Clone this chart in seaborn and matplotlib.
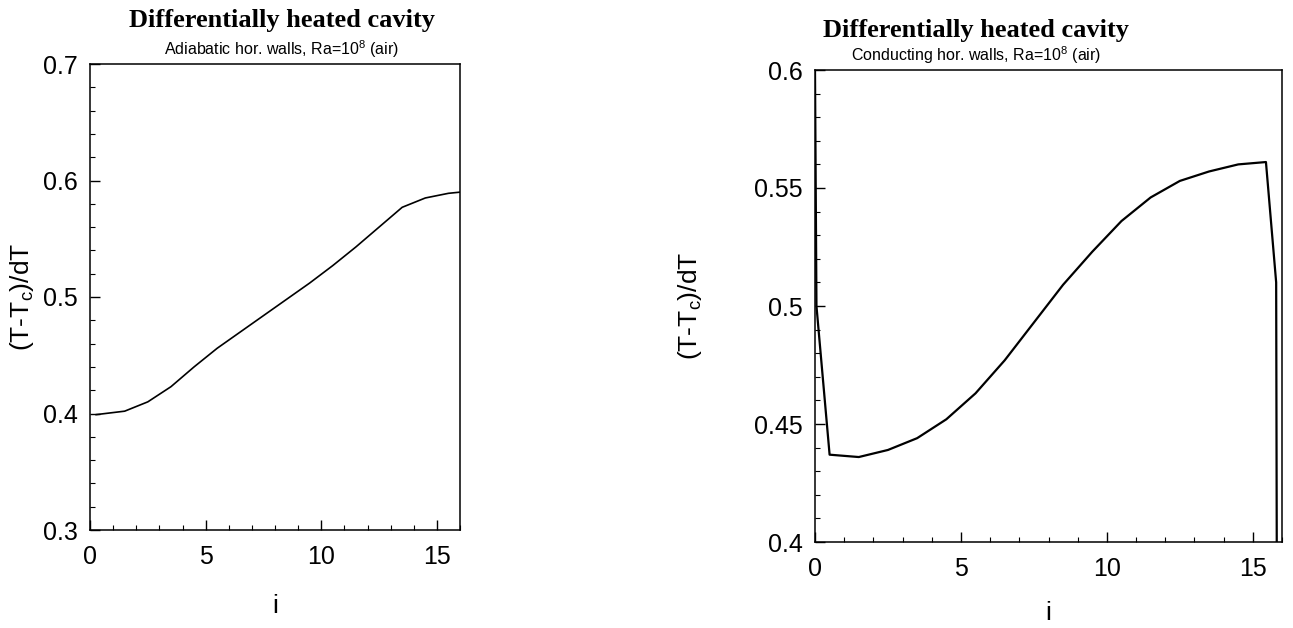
import matplotlib
matplotlib.use("Agg")
import matplotlib.pyplot as plt
from matplotlib.ticker import MultipleLocator
import seaborn as sns
import pandas as pd

# Adiabatic horizontal walls
i_adiabatic = [0.25, 1.5, 2.5, 3.5, 4.5, 5.5, 6.5, 7.5, 8.5, 9.5, 10.5, 11.5, 12.5, 13.5, 14.5, 15.5, 16.0]
t_adiabatic = [0.399, 0.402, 0.410, 0.423, 0.440, 0.456, 0.470, 0.484, 0.498, 0.512, 0.527, 0.543, 0.560, 0.577, 0.585, 0.589, 0.590]

# Conducting horizontal walls
i_conducting = [0.0, 0.05, 0.5, 1.5, 2.5, 3.5, 4.5, 5.5, 6.5, 7.5, 8.5, 9.5, 10.5, 11.5, 12.5, 13.5, 14.5, 15.45, 15.8, 15.82]
t_conducting = [0.600, 0.500, 0.437, 0.436, 0.439, 0.444, 0.452, 0.463, 0.477, 0.493, 0.509, 0.523, 0.536, 0.546, 0.553, 0.557, 0.560, 0.561, 0.510, 0.400]

titles = ["Differentially heated cavity", "Differentially heated cavity"]
subtitles = ["Adiabatic hor. walls, Ra=10$^8$ (air)", "Conducting hor. walls, Ra=10$^8$ (air)"]
xlabel = "i"
ylabel = "(T-T$_c$)/dT"

sns.set_style("ticks")
plt.rcParams["font.family"] = ["Liberation Sans", "DejaVu Sans"]
plt.rcParams["mathtext.fontset"] = "custom"
plt.rcParams["mathtext.rm"] = "Liberation Sans"
plt.rcParams["mathtext.it"] = "Liberation Sans"
plt.rcParams["text.color"] = "black"
plt.rcParams["axes.labelcolor"] = "black"

fig = plt.figure(figsize=(12.93, 6.28), dpi=100)
W, H = 1293, 628

def axes_px(x0, x1, y0, y1):
    return fig.add_axes([x0 / W, 1 - y1 / H, (x1 - x0) / W, (y1 - y0) / H])

ax1 = axes_px(90, 460, 64, 530)
ax2 = axes_px(815, 1282, 70, 542)

df1 = pd.DataFrame({"i": i_adiabatic, "T": t_adiabatic})
df2 = pd.DataFrame({"i": i_conducting, "T": t_conducting})

sns.lineplot(data=df1, x="i", y="T", ax=ax1, color="black", lw=1.2, sort=False, estimator=None)
sns.lineplot(data=df2, x="i", y="T", ax=ax2, color="black", lw=1.6, sort=False, estimator=None)

setups = [
    (ax1, (0.3, 0.7), 0.02, [0.3, 0.4, 0.5, 0.6, 0.7], ["0.3", "0.4", "0.5", "0.6", "0.7"], -0.145, 18),
    (ax2, (0.4, 0.6), 0.01, [0.4, 0.45, 0.5, 0.55, 0.6], ["0.4", "0.45", "0.5", "0.55", "0.6"], -0.238, 14),
]
for ax, ylim, ymin, yt, ytl, ylab_x, xpad in setups:
    ax.set_xlim(0, 16)
    ax.set_ylim(*ylim)
    ax.xaxis.set_major_locator(MultipleLocator(5))
    ax.xaxis.set_minor_locator(MultipleLocator(1))
    ax.set_yticks(yt)
    ax.set_yticklabels(ytl)
    ax.yaxis.set_minor_locator(MultipleLocator(ymin))
    ax.tick_params(which="both", direction="in", colors="black", labelsize=18)
    ax.tick_params(which="major", length=7, width=1)
    ax.tick_params(which="minor", length=3.5, width=0.8)
    ax.tick_params(axis="x", pad=11)
    ax.tick_params(axis="y", pad=9)
    for s in ax.spines.values():
        s.set_visible(True)
        s.set_color("black")
        s.set_linewidth(1.1)
    ax.set_xlabel(xlabel, fontsize=19, labelpad=xpad)
    ax.set_ylabel(ylabel, fontsize=19)
    ax.yaxis.set_label_coords(ylab_x, 0.5)

serif = ["Liberation Serif", "DejaVu Serif"]
fig.text(282 / W, 1 - 21 / H, titles[0], ha="center", va="center", family=serif,
         fontweight="bold", fontsize=19)
fig.text(282 / W, 1 - 49 / H, subtitles[0], ha="center", va="center", fontsize=11.5)
fig.text(976 / W, 1 - 30 / H, titles[1], ha="center", va="center", family=serif,
         fontweight="bold", fontsize=19)
fig.text(976 / W, 1 - 55 / H, subtitles[1], ha="center", va="center", fontsize=11.5)

fig.savefig("out.png", dpi=100, facecolor="white")
